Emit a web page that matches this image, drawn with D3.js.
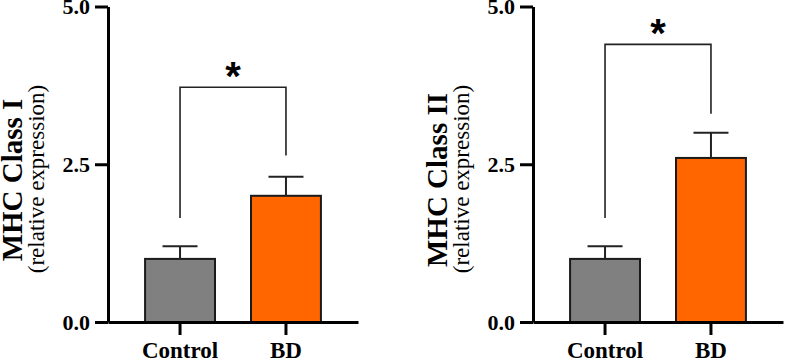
<!DOCTYPE html>
<html>
<head>
<meta charset="utf-8">
<script src="https://cdn.jsdelivr.net/npm/d3@7"></script>
<style>
  html, body { margin: 0; padding: 0; background: #fff; }
  svg { display: block; }
  .ylab text, .xlab text { font-family: "Liberation Serif", "Times New Roman", serif; font-weight: bold; fill: #000; }
</style>
</head>
<body>
<svg id="chart" width="785" height="361"></svg>
<script>
// ---- data ----
const categories = ["Control", "BD"];
const panelTitles = ["MHC Class I", "MHC Class II"];
const panelSubtitle = "(relative expression)";
const meansClassI = [1.0, 2.0];
const errorsClassI = [0.2, 0.3];
const meansClassII = [1.0, 2.6];
const errorsClassII = [0.2, 0.4];
const yTickValues = [0, 2.5, 5.0];
const sigLabels = ["*", "*"];
const bracketTopValues = [3.72, 4.4];
const bracketLeftEndValues = [1.65, 1.65];
const bracketRightEndValues = [2.64, 3.3];

const barColors = ["#808080", "#FF6600"];

// ---- layout ----
const svg = d3.select("#chart");
const axisXs = [108, 533];
const axisLen = 250;
const y = d3.scaleLinear().domain([0, 5]).range([322, 6.5]);

const panels = [
  { title: panelTitles[0], means: meansClassI, errs: errorsClassI },
  { title: panelTitles[1], means: meansClassII, errs: errorsClassII }
];

panels.forEach((p, i) => {
  const ax = axisXs[i];
  const x = d3.scaleBand().domain(categories)
    .range([ax, ax + axisLen]).paddingInner(0.34).paddingOuter(0.35);
  const g = svg.append("g");

  // bars
  g.selectAll("rect.bar").data(categories).join("rect")
    .attr("class", "bar")
    .attr("x", d => x(d))
    .attr("width", x.bandwidth())
    .attr("y", (d, j) => y(p.means[j]))
    .attr("height", (d, j) => y(0) - y(p.means[j]))
    .attr("fill", (d, j) => barColors[j])
    .attr("stroke", "#1a1a1a")
    .attr("stroke-width", 2);

  // error bars
  const capW = 35;
  categories.forEach((c, j) => {
    const cx = x(c) + x.bandwidth() / 2;
    g.append("line")
      .attr("x1", cx).attr("x2", cx)
      .attr("y1", y(p.means[j])).attr("y2", y(p.means[j] + p.errs[j]))
      .attr("stroke", "#222").attr("stroke-width", 2);
    g.append("line")
      .attr("x1", cx - capW / 2).attr("x2", cx + capW / 2)
      .attr("y1", y(p.means[j] + p.errs[j])).attr("y2", y(p.means[j] + p.errs[j]))
      .attr("stroke", "#222").attr("stroke-width", 2);
  });

  // significance bracket
  const xl = x(categories[0]) + x.bandwidth() / 2;
  const xr = x(categories[1]) + x.bandwidth() / 2;
  const path = d3.path();
  path.moveTo(xl, y(bracketLeftEndValues[i]));
  path.lineTo(xl, y(bracketTopValues[i]));
  path.lineTo(xr, y(bracketTopValues[i]));
  path.lineTo(xr, y(bracketRightEndValues[i]));
  g.append("path").attr("d", path.toString())
    .attr("fill", "none").attr("stroke", "#222").attr("stroke-width", 1.6);
  g.append("text")
    .attr("x", (xl + xr) / 2)
    .attr("y", y(bracketTopValues[i]) + 3)
    .attr("text-anchor", "middle")
    .attr("font-family", "Liberation Sans, Arial, sans-serif")
    .attr("font-weight", "bold")
    .attr("font-size", 40)
    .attr("fill", "#000")
    .text(sigLabels[i]);

  // y axis
  const yAxis = g.append("g").attr("class", "ylab")
    .attr("transform", `translate(${ax},0)`)
    .call(d3.axisLeft(y).tickValues(yTickValues).tickFormat(d3.format(".1f"))
      .tickSize(13).tickSizeOuter(0).tickPadding(5));
  yAxis.select(".domain").attr("stroke", "#000").attr("stroke-width", 3);
  yAxis.selectAll(".tick line").attr("stroke", "#000").attr("stroke-width", 3);
  yAxis.selectAll(".tick text").attr("font-size", 22);

  // x axis
  const xAxis = g.append("g").attr("class", "xlab")
    .attr("transform", `translate(0,${y(0)})`)
    .call(d3.axisBottom(x).tickSize(13).tickSizeOuter(0));
  xAxis.select(".domain").attr("stroke", "#000").attr("stroke-width", 3);
  xAxis.selectAll(".tick line").attr("stroke", "#000").attr("stroke-width", 3);
  xAxis.selectAll(".tick text").attr("font-size", 23).attr("dy", null).attr("y", 36);

  // y titles
  const tg = g.append("g").attr("transform", `translate(${ax - 86},180) rotate(-90)`);
  tg.append("text")
    .attr("text-anchor", "middle")
    .attr("font-family", "Liberation Serif, Times New Roman, serif")
    .attr("font-weight", "bold").attr("font-size", 29).attr("fill", "#000")
    .text(p.title);
  const sg = g.append("g").attr("transform", `translate(${ax - 64},179) rotate(-90)`);
  sg.append("text")
    .attr("text-anchor", "middle")
    .attr("font-family", "Liberation Serif, Times New Roman, serif")
    .attr("font-size", 23).attr("fill", "#000")
    .text(panelSubtitle);
});
</script>
</body>
</html>
